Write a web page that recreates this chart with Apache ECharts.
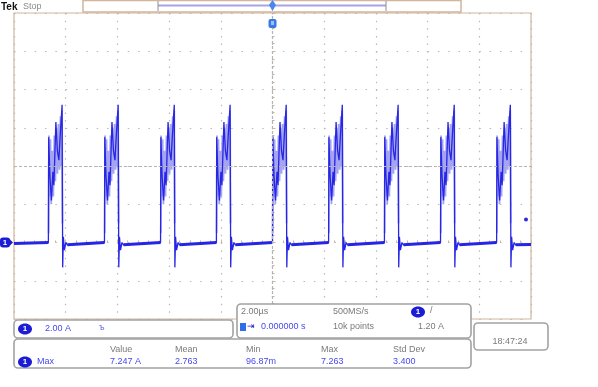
<!DOCTYPE html>
<html><head><meta charset="utf-8">
<script src="https://cdn.jsdelivr.net/npm/echarts@6/dist/echarts.min.js"></script>
<style>html,body{margin:0;padding:0;background:#fff}#c{width:598px;height:387px}</style>
</head><body><div id="c"></div>
<script>
// ---- data ----
const timeRangeUs = [-10, 10];          // 10 divisions, 2.00 µs/div
const timeDivUs = 2;
const ampRange = [-4, 12];               // 8 divisions, 2.00 A/div, ground 2 div below centre
const ampDiv = 2;
const pulseStartsUs = [-8.67, -6.50, -4.33, -2.17, 0.00, 2.17, 4.33, 6.50, 8.67];
const pulseShapeUs = [0, 0.012, 0.058, 0.116, 0.174, 0.213, 0.290, 0.348, 0.406, 0.445, 0.530, 0.553, 0.580, 0.619, 0.677, 0.735];
const pulseShapeA  = [0.0, 5.5, 3.5, 2.2, 3.7, 3.0, 6.3, 4.8, 4.3, 5.3, 7.2, -1.3, 0.3, -0.4, 0.0, -0.12];
const envelopeUs = [0.010, 0.02, 0.05, 0.08, 0.11, 0.15, 0.19, 0.23, 0.27, 0.31, 0.35, 0.39, 0.43, 0.47, 0.50, 0.53, 0.545];
const envelopeA  = [0.5, 5.6, 2.4, 5.4, 2.0, 4.8, 2.4, 5.6, 3.2, 6.0, 3.6, 6.2, 3.8, 6.6, 4.0, 6.9, 1.0];
const traceStart = [-10, -0.05];
const traceEnd = [10, -0.1];
const triggerLevelA = 1.20;
const triggerTimeUs = 0;
const groundA = 0;
const centreA = 4;
const measHeaders = ['Value', 'Mean', 'Min', 'Max', 'Std Dev'];
const measValues = ['7.247 A', '2.763', '96.87m', '7.263', '3.400'];
const measName = 'Max';
const chScale = '2.00 A';
const horizScale = '2.00µs';
const sampleRate = '500MS/s';
const recordLen = '10k points';
const trigLevelText = '1.20 A';
const hPosText = '0.000000 s';
const clockText = '18:47:24';

// ---- build series from the arrays ----
const trace = [traceStart];
pulseStartsUs.forEach(t0 => pulseShapeUs.forEach((dt, i) => trace.push([+(t0 + dt).toFixed(3), pulseShapeA[i]])));
trace.push(traceEnd);

const base = [traceStart, [pulseStartsUs[0], pulseShapeA[0]], '-'];
pulseStartsUs.forEach((t0, k) => {
  const last = pulseShapeUs.length - 1;
  base.push([+(t0 + pulseShapeUs[last]).toFixed(3), pulseShapeA[last]]);
  if (k < pulseStartsUs.length - 1) base.push([pulseStartsUs[k + 1], pulseShapeA[0]]);
  else base.push(traceEnd);
  base.push('-');
});

const env = [];
pulseStartsUs.forEach(t0 => { envelopeUs.forEach((dt, i) => env.push([+(t0 + dt).toFixed(3), envelopeA[i]])); env.push('-'); });

const BLUE = '#2626e4';
const TAN = '#d2b59c';
const chart = echarts.init(document.getElementById('c'), null, { renderer: 'canvas' });
const option = {
  animation: false,
  backgroundColor: '#ffffff',
  grid: { left: 14, top: 13, right: 67, bottom: 68, show: true, borderColor: TAN, borderWidth: 1.2, backgroundColor: '#fff' },
  xAxis: {
    type: 'value', min: timeRangeUs[0], max: timeRangeUs[1], interval: timeDivUs,
    axisLine: { show: false }, axisLabel: { show: false },
    axisTick: { show: true, inside: true, length: 3, lineStyle: { color: TAN } },
    minorTick: { show: true, splitNumber: 5, length: 2, lineStyle: { color: '#c9b09a' } },
    splitLine: { show: true, lineStyle: { color: '#b9b9b9', width: 1.2, type: [1.5, 6.15] } }
  },
  yAxis: {
    type: 'value', min: ampRange[0], max: ampRange[1], interval: ampDiv,
    axisLine: { show: false }, axisLabel: { show: false },
    axisTick: { show: true, inside: true, length: 3, lineStyle: { color: TAN } },
    minorTick: { show: true, splitNumber: 5, length: 2, lineStyle: { color: '#c9b09a' } },
    splitLine: { show: true, lineStyle: { color: '#b9b9b9', width: 1.2, type: [1.5, 8.84] } }
  },
  series: [
    {
      type: 'line', data: env, showSymbol: false, connectNulls: false, silent: true,
      lineStyle: { color: '#a4a4f2', width: 1.8 }, z: 2,
      markLine: {
        silent: true, symbol: 'none', label: { show: false }, animation: false,
        lineStyle: { color: '#b4b4b4', width: 1.2, type: [3, 2] },
        data: [{ xAxis: triggerTimeUs }, { yAxis: centreA }]
      }
    },
    {
      type: 'line', data: base, showSymbol: false, connectNulls: false, silent: true,
      lineStyle: { color: BLUE, width: 3 }, z: 3
    },
    {
      type: 'line', data: trace, showSymbol: false, silent: true,
      lineStyle: { color: BLUE, width: 1.3 }, z: 4
    }
  ]
};
chart.setOption(option);

// ---- scope UI decorations (positions from library scales where tied to data) ----
const yGround = chart.convertToPixel({ yAxisIndex: 0 }, groundA);
const yTrig = chart.convertToPixel({ yAxisIndex: 0 }, triggerLevelA);
const xTrig = chart.convertToPixel({ xAxisIndex: 0 }, triggerTimeUs);
const xRight = chart.convertToPixel({ xAxisIndex: 0 }, timeRangeUs[1]);
const F = 'Liberation Sans, Arial, sans-serif';
const TB = '#4848ec';
const TG = '#7a7a7a';
function txt(x, y, s, color, size, extra) {
  return Object.assign({ type: 'text', x: x, y: y, z: 20, style: { text: s, fill: color, font: (size || 9) + 'px ' + F, textVerticalAlign: 'middle', textAlign: 'left' } }, extra || {});
}
function box(x, y, w, h) {
  return { type: 'rect', z: 15, shape: { x: x, y: y, width: w, height: h, r: 4 }, style: { fill: '#fff', stroke: '#a2a2a2', lineWidth: 1.6 } };
}
function badge(cx, cy) {
  return [
    { type: 'ellipse', z: 21, shape: { cx: cx, cy: cy, rx: 7, ry: 5.5 }, style: { fill: '#1c1cd6' } },
    { type: 'text', z: 22, x: cx, y: cy, style: { text: '1', fill: '#fff', font: 'bold 8px ' + F, textAlign: 'center', textVerticalAlign: 'middle' } }
  ];
}
const g = [];
// Tek Stop
g.push({ type: 'text', x: 1, y: 7, z: 20, style: { text: 'Tek', fill: '#111', font: 'bold 10px ' + F, textVerticalAlign: 'middle' } });
g.push(txt(23, 7, 'Stop', '#8a8a8a', 9));
// record bar
g.push({ type: 'rect', z: 10, shape: { x: 83, y: 0.5, width: 378, height: 11.5 }, style: { fill: '#fff', stroke: TAN, lineWidth: 1.5 } });
g.push({ type: 'line', z: 11, shape: { x1: 158, y1: 5.5, x2: 386, y2: 5.5 }, style: { stroke: '#a4a4e4', lineWidth: 2 } });
g.push({ type: 'line', z: 11, shape: { x1: 158, y1: 1, x2: 158, y2: 11 }, style: { stroke: '#909090', lineWidth: 1 } });
g.push({ type: 'line', z: 11, shape: { x1: 386, y1: 1, x2: 386, y2: 11 }, style: { stroke: '#909090', lineWidth: 1 } });
// trigger position marker
g.push({ type: 'polygon', z: 12, shape: { points: [[xTrig, 0], [xTrig + 3.5, 5], [xTrig, 11], [xTrig - 3.5, 5]] }, style: { fill: '#4a86ee' } });
g.push({ type: 'rect', z: 12, shape: { x: xTrig - 4, y: 19, width: 8, height: 9, r: 2 }, style: { fill: '#3a78ea' } });
g.push({ type: 'rect', z: 13, shape: { x: xTrig - 1.5, y: 21, width: 3, height: 4 }, style: { fill: '#9cc0f6' } });
// ground marker
g.push({ type: 'rect', z: 12, shape: { x: 0, y: yGround - 5, width: 10, height: 10, r: 3 }, style: { fill: '#1c1cd6' } });
g.push({ type: 'polygon', z: 12, shape: { points: [[9, yGround - 4], [13, yGround], [9, yGround + 4]] }, style: { fill: '#1c1cd6' } });
g.push({ type: 'text', z: 13, x: 5, y: yGround, style: { text: '1', fill: '#fff', font: 'bold 8px ' + F, textAlign: 'center', textVerticalAlign: 'middle' } });
// trigger level dot
g.push({ type: 'circle', z: 12, shape: { cx: xRight - 5, cy: yTrig, r: 2 }, style: { fill: '#2a2ae8' } });
// boxes
g.push(box(14, 339, 457, 29));
g.push(box(14, 320, 219, 18));
g.push(box(237, 304, 234, 34));
g.push(box(474, 323, 74, 27));
// channel box
g.push(...badge(25, 329));
g.push(txt(45, 329, chScale, TB));
g.push(txt(99, 328, 'Ъ', TB, 7));
// horizontal box
g.push(txt(241, 312, horizScale, TG));
g.push(txt(333, 312, sampleRate, TG));
g.push(...badge(418, 312));
g.push(txt(430, 311, '/', TG, 9));
g.push({ type: 'rect', z: 21, shape: { x: 240, y: 323, width: 6, height: 8 }, style: { fill: '#2f6ee6' } });
g.push(txt(247, 327, '⇥', '#1c1cd6', 9));
g.push(txt(261, 327, hPosText, TB));
g.push(txt(333, 327, recordLen, TG));
g.push(txt(418, 327, trigLevelText, TG));
// measurements
const measX = [110, 175, 246, 321, 393];
measHeaders.forEach((h, i) => g.push(txt(measX[i], 350, h, TG)));
g.push(...badge(25, 362));
g.push(txt(37, 362, measName, TB));
measValues.forEach((v, i) => g.push(txt(measX[i], 362, v, TB)));
// clock
g.push({ type: 'text', z: 20, x: 510, y: 342, style: { text: clockText, fill: TG, font: '9px ' + F, textAlign: 'center', textVerticalAlign: 'middle' } });
chart.setOption({ graphic: g });
</script></body></html>
